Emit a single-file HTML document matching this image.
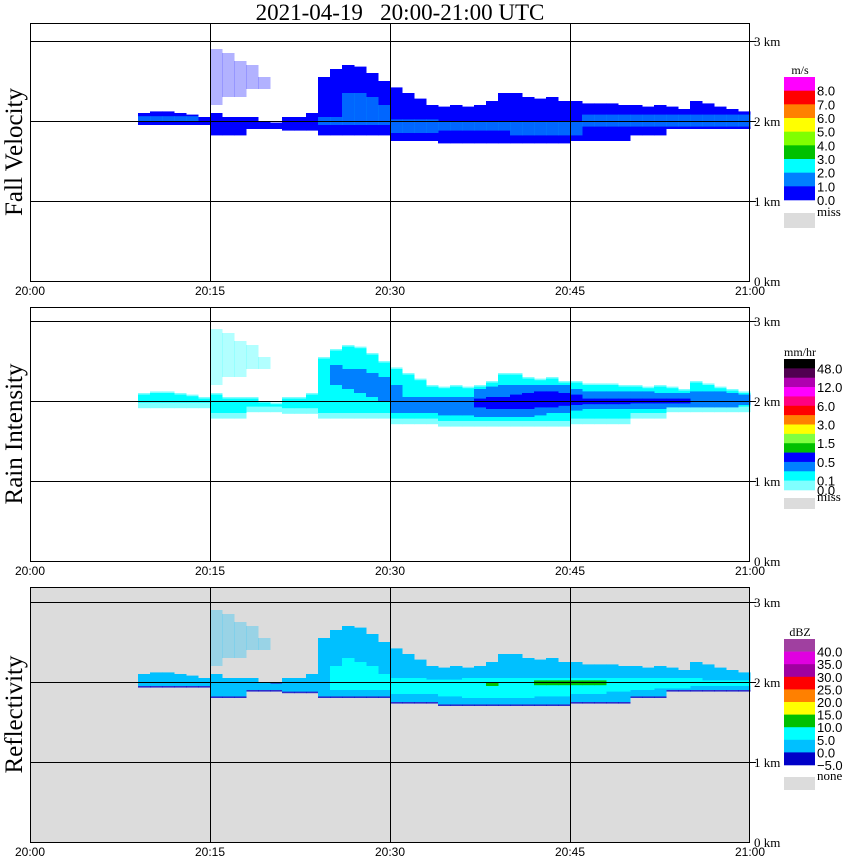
<!DOCTYPE html>
<html><head><meta charset="utf-8"><style>
html,body{margin:0;padding:0;background:#fff;}
svg{display:block;}
</style></head><body>
<svg id="chart" width="850" height="868" xmlns="http://www.w3.org/2000/svg">
<text x="400" y="20" text-anchor="middle" font-family="Liberation Serif, serif" font-size="23" xml:space="preserve" style="white-space:pre">2021-04-19   20:00-21:00 UTC</text>
</svg>
<script>
// minutes 0..59 after 20:00 (heights in km)
const minutes = Array.from({length:60},(_,i)=>i);
const timeTicks = ["20:00","20:15","20:30","20:45","21:00"];
const tickMinutes = [0,15,30,45,60];
const kmTicks = [0,1,2,3];
const outerTop = [0,0,0,0,0,0,0,0,0,2.1,2.12,2.12,2.1,2.08,2.05,2.1,2.05,2.05,2.05,2.0,1.98,2.05,2.05,2.1,2.55,2.65,2.7,2.68,2.6,2.5,2.42,2.35,2.28,2.2,2.18,2.2,2.18,2.2,2.25,2.35,2.35,2.3,2.28,2.3,2.25,2.25,2.22,2.22,2.22,2.2,2.2,2.18,2.2,2.18,2.15,2.25,2.22,2.18,2.15,2.12];
const outerBot = [0,0,0,0,0,0,0,0,0,1.95,1.95,1.95,1.95,1.95,1.95,1.82,1.82,1.82,1.9,1.9,1.9,1.88,1.88,1.88,1.82,1.82,1.82,1.82,1.82,1.82,1.75,1.75,1.75,1.75,1.72,1.72,1.72,1.72,1.72,1.72,1.72,1.72,1.72,1.72,1.72,1.75,1.75,1.75,1.75,1.75,1.82,1.82,1.82,1.9,1.9,1.9,1.9,1.9,1.9,1.9];
const coreTop = [0,0,0,0,0,0,0,0,0,2.06,2.06,2.06,2.06,2.06,0,0,0,0,0,0,0,0,0,0,2.05,2.05,2.35,2.35,2.3,2.2,2.02,2.02,2.02,2.02,2.0,2.0,2.0,2.0,2.0,2.0,2.0,2.0,2.0,2.0,2.0,2.0,2.08,2.08,2.08,2.08,2.08,2.08,2.08,2.08,2.08,2.08,2.08,2.08,2.08,2.08];
const coreBot = [0,0,0,0,0,0,0,0,0,1.99,1.99,1.99,1.99,1.99,0,0,0,0,0,0,0,0,0,0,1.95,1.95,1.95,1.95,1.95,1.95,1.85,1.85,1.85,1.85,1.88,1.88,1.88,1.88,1.88,1.88,1.82,1.82,1.82,1.82,1.82,1.82,1.93,1.93,1.93,1.93,1.93,1.93,1.93,1.93,1.93,1.93,1.93,1.93,1.93,1.93];
const rainBlueTop = [0,0,0,0,0,0,0,0,0,0,0,0,0,0,0,0,0,0,0,0,0,0,0,0,0,2.45,2.4,2.4,2.35,2.3,2.2,2.05,2.05,2.05,2.05,2.05,2.05,2.15,2.18,2.2,2.2,2.2,2.2,2.2,2.2,2.15,2.12,2.12,2.12,2.12,2.12,2.12,2.1,2.1,2.1,2.12,2.12,2.12,2.1,2.08];
const rainBlueBot = [0,0,0,0,0,0,0,0,0,0,0,0,0,0,0,0,0,0,0,0,0,0,0,0,0,2.2,2.15,2.1,2.05,2.0,1.85,1.85,1.85,1.85,1.82,1.82,1.82,1.8,1.8,1.8,1.8,1.8,1.82,1.85,1.85,1.88,1.9,1.9,1.9,1.9,1.9,1.9,1.9,1.92,1.92,1.92,1.92,1.92,1.92,1.95];
const rainCoreTop = [0,0,0,0,0,0,0,0,0,0,0,0,0,0,0,0,0,0,0,0,0,0,0,0,0,0,0,0,0,0,0,0,0,0,0,0,0,2.03,2.05,2.05,2.08,2.1,2.12,2.12,2.1,2.08,2.03,2.03,2.03,2.03,2.03,2.03,2.03,2.03,2.03,0,0,0,0,0];
const rainCoreBot = [0,0,0,0,0,0,0,0,0,0,0,0,0,0,0,0,0,0,0,0,0,0,0,0,0,0,0,0,0,0,0,0,0,0,0,0,0,1.92,1.9,1.9,1.9,1.9,1.92,1.92,1.94,1.95,1.96,1.96,1.96,1.96,1.97,1.97,1.97,1.97,1.97,0,0,0,0,0];
const dbzCyanTop = [0,0,0,0,0,0,0,0,0,0,0,0,0,0,0,0,0,0,0,0,0,0,0,0,0,2.2,2.3,2.25,2.2,2.1,2.05,2.05,2.05,2.03,2.03,2.03,2.05,2.05,2.05,2.05,2.05,2.05,2.05,2.05,2.05,2.05,2.05,2.05,2.05,2.05,2.05,2.05,2.05,2.05,2.05,2.05,2.02,2.02,2.02,2.02];
const dbzCyanBot = [0,0,0,0,0,0,0,0,0,0,0,0,0,0,0,0,0,0,0,0,0,0,0,0,0,1.9,1.9,1.9,1.9,1.9,1.85,1.85,1.85,1.85,1.82,1.82,1.8,1.8,1.8,1.8,1.8,1.8,1.82,1.82,1.82,1.85,1.85,1.85,1.88,1.88,1.9,1.9,1.92,1.92,1.92,1.95,1.95,1.95,1.95,1.95];
const dbzGreenTop = [0,0,0,0,0,0,0,0,0,0,0,0,0,0,0,0,0,0,0,0,0,0,0,0,0,0,0,0,0,0,0,0,0,0,0,0,0,0,2.0,0,0,0,2.02,2.02,2.02,2.02,2.02,2.02,0,0,0,0,0,0,0,0,0,0,0,0];
const dbzGreenBot = [0,0,0,0,0,0,0,0,0,0,0,0,0,0,0,0,0,0,0,0,0,0,0,0,0,0,0,0,0,0,0,0,0,0,0,0,0,0,1.95,0,0,0,1.96,1.96,1.96,1.96,1.96,1.96,0,0,0,0,0,0,0,0,0,0,0,0];
const sparseMinutes = [15,16,17,18,19];
const sparseTop = [2.9,2.85,2.75,2.7,2.55];
const sparseBot = [2.2,2.3,2.3,2.4,2.4];

const NS="http://www.w3.org/2000/svg";
const svg=document.getElementById('chart');
const X0=30,X1=750;
function xScale(m){return X0+(X1-X0)*m/60;}
function mk(tag,attrs,parent){const e=document.createElementNS(NS,tag);for(const k in attrs)e.setAttribute(k,attrs[k]);(parent||svg).appendChild(e);return e;}
const panels=[
 {name:'fall-velocity',title:'Fall Velocity',top:23,base:281,bg:'#ffffff'},
 {name:'rain-intensity',title:'Rain Intensity',top:307,base:561,bg:'#ffffff'},
 {name:'reflectivity',title:'Reflectivity',top:587,base:842,bg:'#dcdcdc'}];
function drawLayer(g,p,tops,bots,color,op,pname){
 const ys=km=>p.base-80*km;
 minutes.forEach(i=>{
  if(!tops[i]||tops[i]<=bots[i])return;
  const r=mk('rect',{x:xScale(i),y:ys(tops[i]),width:xScale(i+1)-xScale(i)+0.5,height:ys(bots[i])-ys(tops[i]),fill:color,'fill-opacity':op},g);
  
  
 });
}
panels.forEach((p,pi)=>{
 const g=mk('g',{});
 
 
 const bg=mk('rect',{x:X0,y:p.top,width:X1-X0,height:p.base-p.top,fill:p.bg},g);
 
 
 const ys=km=>p.base-80*km;
 const sT=minutes.map(i=>{const k=sparseMinutes.indexOf(i);return k<0?0:sparseTop[k];});
 const sB=minutes.map(i=>{const k=sparseMinutes.indexOf(i);return k<0?0:sparseBot[k];});
 if(pi===0){
  drawLayer(g,p,sT,sB,'#0000ff',0.3,'echo-sparse');
  drawLayer(g,p,outerTop,outerBot,'#0000ff',1,'echo-outer');
  drawLayer(g,p,coreTop,coreBot,'#0080ff',0.8,'echo-core');
 } else if(pi===1){
  drawLayer(g,p,sT,sB,'#00ffff',0.3,'echo-sparse');
  drawLayer(g,p,outerTop,outerBot.map(v=>v?v-0.04:0),'#80ffff',1,'echo-light');
  drawLayer(g,p,outerTop.map(v=>v?v-0.02:0),outerBot.map(v=>v?v+0.03:0),'#00ffff',1,'echo-outer');
  drawLayer(g,p,rainBlueTop,rainBlueBot,'#0080ff',1,'echo-mid');
  drawLayer(g,p,rainCoreTop,rainCoreBot,'#0000ff',1,'echo-core');
 } else {
  drawLayer(g,p,sT,sB,'#00c0ff',0.3,'echo-sparse');
  drawLayer(g,p,outerTop.map(v=>v?2.0:0),outerBot.map(v=>v?v-0.02:0),'#0000c8',0.8,'echo-fringe');
  drawLayer(g,p,outerTop,outerBot,'#00c0ff',1,'echo-outer');
  drawLayer(g,p,dbzCyanTop,dbzCyanBot,'#00ffff',1,'echo-mid');
  drawLayer(g,p,dbzGreenTop,dbzGreenBot,'#00c000',1,'echo-core');
 }
 kmTicks.forEach(k=>{
  if(k>0){const l=mk('line',{x1:X0,x2:X1+6,y1:ys(k)+0.5,y2:ys(k)+0.5,stroke:'#000','stroke-width':1},g);
  
  }
  const t=mk('text',{x:X1+4,y:ys(k)+5,'font-family':'Liberation Serif, serif','font-size':13},g);
  t.textContent=k+' km';
  
  
 });
 tickMinutes.forEach((m,j)=>{
  if(m>0&&m<60){const l=mk('line',{x1:xScale(m)+0.5,x2:xScale(m)+0.5,y1:p.top,y2:p.base,stroke:'#000','stroke-width':1},g);
  
  }
  const t=mk('text',{x:xScale(m),y:p.base+14,'text-anchor':'middle','font-family':'Liberation Sans, sans-serif','font-size':12},g);
  t.textContent=timeTicks[j];
  
  
 });
 const fr=mk('rect',{x:X0+0.5,y:p.top+0.5,width:X1-X0-1,height:p.base-p.top,fill:'none',stroke:'#000','stroke-width':1},g);
 
 
 const cy=(p.top+p.base)/2;
 const tt=mk('text',{x:0,y:0,transform:`translate(22,${cy}) rotate(-90)`,'text-anchor':'middle','font-family':'Liberation Serif, serif','font-size':25},g);
 tt.textContent=p.title;
 
 
});
// legends
const legends=[
 {name:'fall-velocity-legend',unit:'m/s',top:77,bottom:200,colors:['#ff00ff','#ff0000','#ff8000','#ffff00','#80ff00','#00c000','#00ffff','#0080ff','#0000ff'],labels:{1:'8.0',2:'7.0',3:'6.0',4:'5.0',5:'4.0',6:'3.0',7:'2.0',8:'1.0',9:'0.0'},miss:'miss',missY:213,missH:15},
 {name:'rain-intensity-legend',unit:'mm/hr',top:359,bottom:490,colors:['#000000','#500050','#b000b0','#ff00ff','#ff0080','#ff0000','#ff8000','#ffff00','#80ff40','#00c000','#0000ff','#0080ff','#00ffff','#80ffff'],labels:{1:'48.0',3:'12.0',5:'6.0',7:'3.0',9:'1.5',11:'0.5',13:'0.1',14:'0.0'},miss:'miss',missY:498,missH:11},
 {name:'reflectivity-legend',unit:'dBZ',top:639,bottom:765,colors:['#a040a0','#e000e0','#a000a0','#ff0000','#ff8000','#ffff00','#00c000','#00ffff','#00c0ff','#0000c8'],labels:{1:'40.0',2:'35.0',3:'30.0',4:'25.0',5:'20.0',6:'15.0',7:'10.0',8:'5.0',9:'0.0',10:'−5.0'},miss:'none',missY:777,missH:13}];
legends.forEach(L=>{
 const g=mk('g',{});
 
 
 const h=(L.bottom-L.top)/L.colors.length;
 const u=mk('text',{x:800,y:L.top-3,'text-anchor':'middle','font-family':'Liberation Serif, serif','font-size':12},g);
 u.textContent=L.unit;
 
 
 L.colors.forEach((c,i)=>{
  const r=mk('rect',{x:784,y:L.top+i*h,width:31,height:h+0.3,fill:c},g);
  
  
 });
 for(const k in L.labels){
  const t=mk('text',{x:817,y:L.top+k*h+5,'font-family':'Liberation Sans, sans-serif','font-size':13},g);
  t.textContent=L.labels[k];
  
  
 }
 const ms=mk('rect',{x:784,y:L.missY,width:31,height:L.missH,fill:'#dcdcdc'},g);
 
 
 const mt=mk('text',{x:817,y:L.missY+3,'font-family':'Liberation Serif, serif','font-size':13},g);
 mt.textContent=L.miss;
 
 
});
</script>
</body></html>
